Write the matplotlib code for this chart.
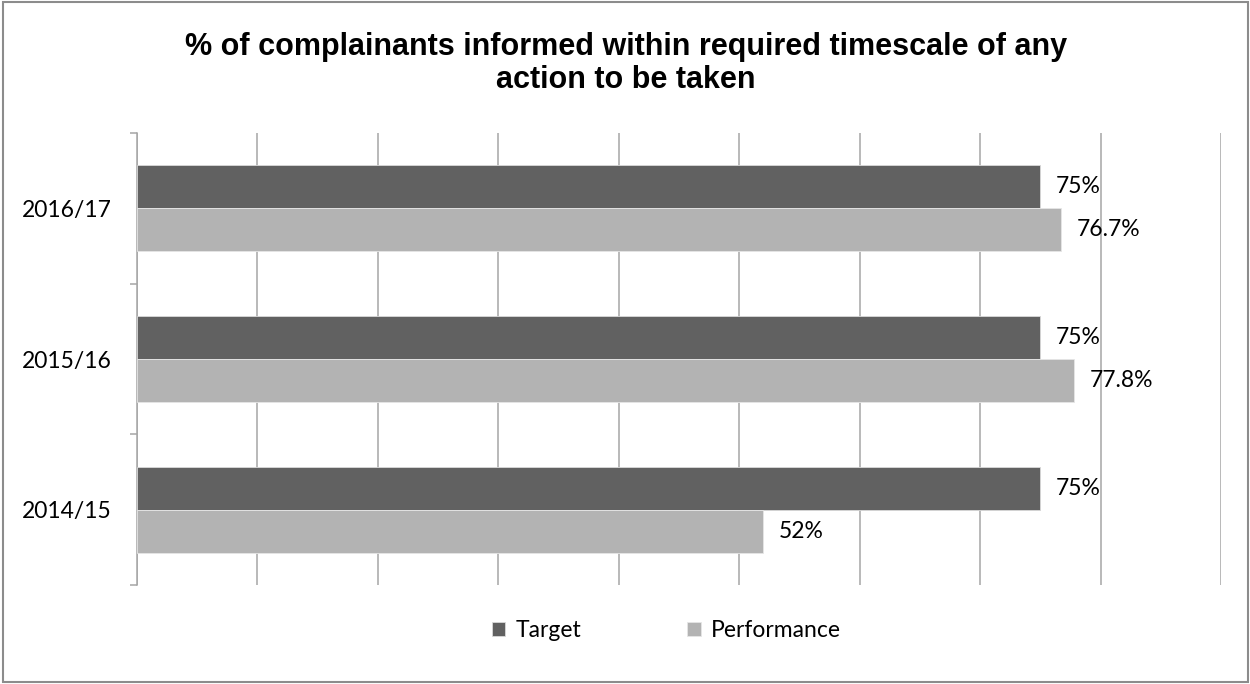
import matplotlib
matplotlib.use("Agg")
import matplotlib.pyplot as plt
import numpy as np
from matplotlib.patches import Rectangle

categories = ["2014/15", "2015/16", "2016/17"]
target = [75, 75, 75]
performance = [52, 77.8, 76.7]
target_labels = ["75%", "75%", "75%"]
performance_labels = ["52%", "77.8%", "76.7%"]
title = "% of complainants informed within required timescale of any\naction to be taken"

label_font = ["Lato", "DejaVu Sans"]
fs = 16.5

fig = plt.figure(figsize=(12.5, 6.84), dpi=100)
ax = fig.add_axes([0.1096, 0.1447, 0.8672, 0.6608])

y = np.arange(len(categories))
h = 0.285
c_t = "#616161"
c_p = "#b3b3b3"
bt = ax.barh(y + h / 2, target, height=h, color=c_t, edgecolor="#d9d9d9", linewidth=0.6, label="Target", zorder=3)
bp = ax.barh(y - h / 2, performance, height=h, color=c_p, edgecolor="#e6e6e6", linewidth=0.6, label="Performance", zorder=3)

for yi, v, s in zip(y, target, target_labels):
    ax.text(v + 1.3, yi + h / 2, s, va="center", ha="left", fontsize=fs, family=label_font, zorder=4)
for yi, v, s in zip(y, performance, performance_labels):
    ax.text(v + 1.3, yi - h / 2, s, va="center", ha="left", fontsize=fs, family=label_font, zorder=4)

ax.set_xlim(0, 90)
ax.set_ylim(-0.5, 2.5)
ax.set_xticks(np.arange(0, 91, 10))
ax.set_xticklabels([])
ax.tick_params(axis="x", length=0)
ax.grid(axis="x", color="#a6a6a6", linewidth=1.1, zorder=0)

ax.set_yticks(y)
ax.set_yticklabels(categories, fontsize=fs, family=label_font)
ax.set_yticks([-0.5, 0.5, 1.5, 2.5], minor=True)
ax.tick_params(axis="y", which="major", length=0, pad=18)
ax.tick_params(axis="y", which="minor", length=5, color="#a6a6a6", width=1.1)

for side in ["top", "right", "bottom"]:
    ax.spines[side].set_visible(False)
ax.spines["left"].set_color("#a6a6a6")
ax.spines["left"].set_linewidth(1.1)

fig.text(0.501, 0.907, title, ha="center", va="center", fontsize=22, fontweight="bold",
         family=["Liberation Sans", "DejaVu Sans"], linespacing=1.15)

leg = fig.legend(handles=[bt, bp], labels=["Target", "Performance"], loc="center",
                 bbox_to_anchor=(0.533, 0.078), ncol=2, frameon=False,
                 prop={"family": label_font, "size": fs}, handlelength=0.6, handleheight=0.6,
                 columnspacing=4.6, handletextpad=0.45)

fig.patches.append(Rectangle((0.002, 0.003), 0.996, 0.994, transform=fig.transFigure,
                             fill=False, edgecolor="#8c8c8c", linewidth=1.5))

fig.savefig("out.png", dpi=100)
